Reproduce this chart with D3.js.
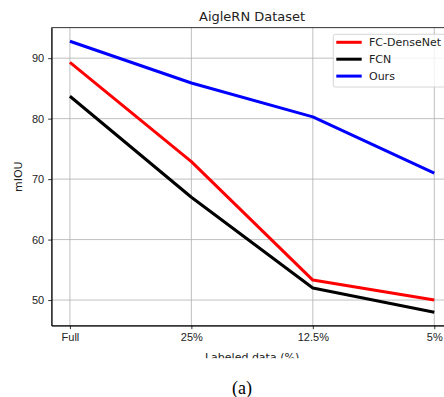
<!DOCTYPE html>
<html lang="en">
<head>
<meta charset="UTF-8">
<title>AigleRN Dataset</title>
<script src="https://cdn.jsdelivr.net/npm/d3@7"></script>
<style>
    body { margin: 0; background: #fff; }
    svg { display: block; font-family: "DejaVu Sans", sans-serif; }
    .grid line { stroke: #b0b0b0; stroke-width: 0.8; }
    .axis path, .axis line { stroke: #000; stroke-width: 0.8; }
    .axis text { font-size: 11px; fill: #222; }
</style>
</head>
<body>
<div id="chart"></div>
<script>
    // data
    var categories = ["Full", "25%", "12.5%", "5%"];
    var fcDenseNet = [89.3, 72.9, 53.3, 50.0];
    var fcn = [83.7, 67.0, 52.0, 48.0];
    var ours = [92.8, 85.9, 80.3, 71.0];
    var yTicks = [50, 60, 70, 80, 90];

    var series = [
        { name: "FC-DenseNet", color: "#ff0000", values: fcDenseNet },
        { name: "FCN", color: "#000000", values: fcn },
        { name: "Ours", color: "#0000ff", values: ours }
    ];

    var W = 444, H = 397;
    var margin = { top: 27.7, left: 51.7 },
        width = 452.5 - margin.left,
        height = 325.7 - margin.top;

    var svg = d3.select("#chart").append("svg")
        .attr("width", W)
        .attr("height", H);

    var g = svg.append("g")
        .attr("transform", "translate(" + margin.left + "," + margin.top + ")");

    // matplotlib style 5% margins
    var x = d3.scaleLinear()
        .domain([-0.15, categories.length - 1 + 0.15])
        .range([0, width]);

    var all = fcDenseNet.concat(fcn, ours);
    var lo = d3.min(all), hi = d3.max(all), pad = (hi - lo) * 0.05;
    var y = d3.scaleLinear()
        .domain([lo - pad, hi + pad])
        .range([height, 0]);

    // grid
    var grid = g.append("g").attr("class", "grid");
    grid.selectAll(".gx").data(d3.range(categories.length)).enter()
        .append("line")
        .attr("x1", function (d) { return x(d); })
        .attr("x2", function (d) { return x(d); })
        .attr("y1", 0).attr("y2", height);
    grid.selectAll(".gy").data(yTicks).enter()
        .append("line")
        .attr("x1", 0).attr("x2", width)
        .attr("y1", function (d) { return y(d); })
        .attr("y2", function (d) { return y(d); });

    // lines
    var line = d3.line()
        .x(function (d, i) { return x(i); })
        .y(function (d) { return y(d); });

    g.selectAll(".series").data(series).enter()
        .append("path")
        .attr("fill", "none")
        .attr("stroke", function (d) { return d.color; })
        .attr("stroke-width", 3)
        .attr("stroke-linejoin", "round")
        .attr("d", function (d) { return line(d.values); });

    // axes
    g.append("g")
        .attr("class", "axis")
        .attr("transform", "translate(0," + height + ")")
        .call(d3.axisBottom(x)
            .tickValues(d3.range(categories.length))
            .tickFormat(function (d) { return categories[d]; })
            .tickSize(3.5).tickPadding(4).tickSizeOuter(0));

    g.append("g")
        .attr("class", "axis")
        .call(d3.axisLeft(y)
            .tickValues(yTicks)
            .tickSize(3.5).tickPadding(4).tickSizeOuter(0));

    // top and right spines
    g.append("rect")
        .attr("width", width).attr("height", height)
        .attr("fill", "none")
        .attr("stroke", "#000")
        .attr("stroke-width", 0.8);

    // legend
    var lg = g.append("g")
        .attr("transform", "translate(" + (333.3 - margin.left) + "," + (34.3 - margin.top) + ")");
    lg.append("rect")
        .attr("width", 130).attr("height", 52.7)
        .attr("rx", 2)
        .attr("fill", "#fff").attr("fill-opacity", 0.8)
        .attr("stroke", "#ccc").attr("stroke-width", 0.8);
    var items = lg.selectAll(".item").data(series).enter()
        .append("g")
        .attr("transform", function (d, i) { return "translate(0," + (8 + i * 16.9) + ")"; });
    items.append("line")
        .attr("x1", 3).attr("x2", 28.4)
        .attr("stroke", function (d) { return d.color; })
        .attr("stroke-width", 3);
    items.append("text")
        .attr("x", 35.7)
        .attr("dy", "0.35em")
        .style("font-size", "11px")
        .style("fill", "#222")
        .text(function (d) { return d.name; });

    // title and axis labels
    svg.append("text")
        .attr("x", margin.left + width / 2)
        .attr("y", 20.5)
        .attr("text-anchor", "middle")
        .style("font-size", "13px")
        .style("fill", "#222")
        .text("AigleRN Dataset");

    svg.append("text")
        .attr("transform", "translate(22," + (margin.top + height / 2) + ") rotate(-90)")
        .attr("text-anchor", "middle")
        .style("font-size", "11px")
        .style("fill", "#222")
        .text("mIOU");

    var clip = svg.append("clipPath").attr("id", "cut");
    clip.append("rect").attr("x", 0).attr("y", 0).attr("width", W).attr("height", 358.3);

    svg.append("text")
        .attr("clip-path", "url(#cut)")
        .attr("x", margin.left + width / 2)
        .attr("y", 361)
        .attr("text-anchor", "middle")
        .style("font-size", "11px")
        .style("fill", "#222")
        .text("Labeled data (%)");

    svg.append("text")
        .attr("x", 242)
        .attr("y", 394)
        .attr("text-anchor", "middle")
        .style("font-family", "'Liberation Serif', 'DejaVu Serif', serif")
        .style("font-size", "18px")
        .style("fill", "#000")
        .text("(a)");
</script>
</body>
</html>
